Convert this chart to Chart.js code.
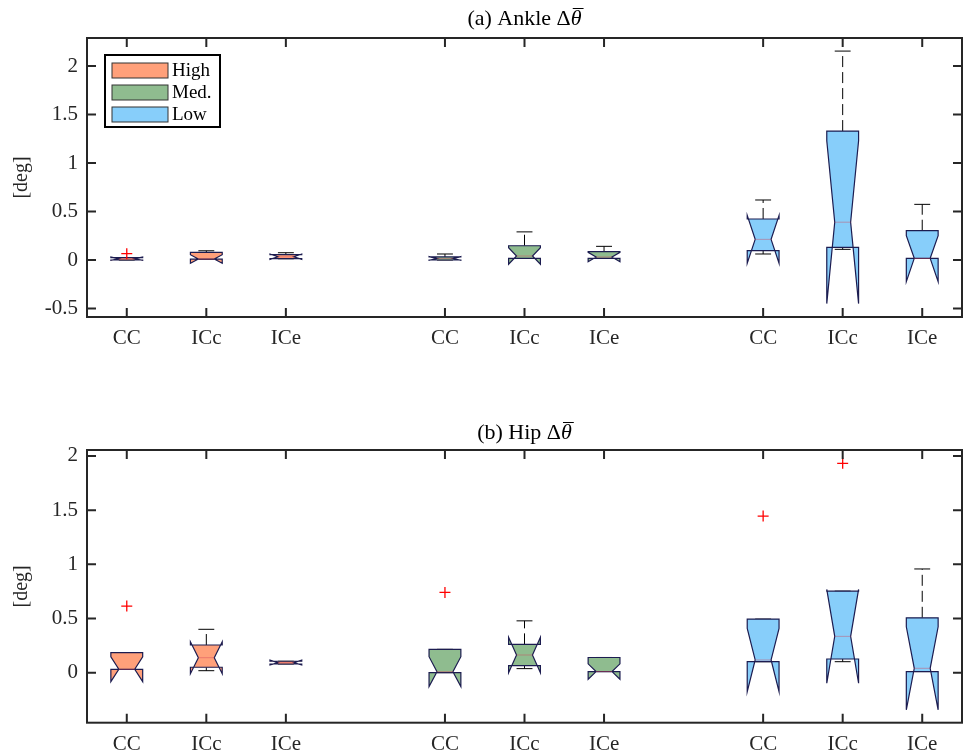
<!DOCTYPE html>
<html>
<head>
<meta charset="utf-8">
<script src="https://cdn.jsdelivr.net/npm/chart.js@4.4.1/dist/chart.umd.min.js"></script>
<style>
    body { margin: 0; background: #fff; width: 963px; height: 755px; overflow: hidden; position: relative; }
    canvas { position: absolute; left: 0; }
    #ankle { top: 0; }
    #hip { top: 380px; }
</style>
</head>
<body>
<canvas id="ankle" width="963" height="380"></canvas>
<canvas id="hip" width="963" height="375"></canvas>
<script>
// box positions on the x axis and their labels
const tickPos = [1, 2, 3, 5, 6, 7, 9, 10, 11]
const tickLabels = ['CC', 'ICc', 'ICe', 'CC', 'ICc', 'ICe', 'CC', 'ICc', 'ICe']
const groupNames = ['High', 'Med.', 'Low']
const groupColors = ['#ffa07a', '#8fbc8f', '#87cefa']
const groupOf = [0, 0, 0, 1, 1, 1, 2, 2, 2]

// (a) ankle
const ankleQ1      = [0.000, 0.008, 0.015, 0.000, 0.017, 0.017, 0.096, 0.130, 0.017]
const ankleMed     = [0.012, 0.010, 0.033, 0.015, 0.041, 0.031, 0.213, 0.390, 0.017]
const ankleQ3      = [0.025, 0.079, 0.055, 0.032, 0.147, 0.086, 0.423, 1.330, 0.302]
const ankleNotchLo = [-0.004, -0.034, 0.007, -0.003, -0.044, -0.017, -0.034, -0.450, -0.224]
const ankleNotchHi = [0.030, 0.055, 0.062, 0.035, 0.126, 0.079, 0.460, 1.230, 0.250]
const ankleWhiskLo = [0.000, 0.008, 0.013, 0.000, 0.017, 0.017, 0.062, 0.110, 0.017]
const ankleWhiskHi = [0.025, 0.095, 0.075, 0.062, 0.290, 0.141, 0.619, 2.155, 0.574]
const ankleOutX = [1]
const ankleOutY = [0.065]
const ankleYTicks = [-0.5, 0, 0.5, 1, 1.5, 2]
const ankleYLabels = ['-0.5', '0', '0.5', '1', '1.5', '2']

// (b) hip
const hipQ1      = [0.031, 0.050, 0.080, 0.000, 0.065, 0.010, 0.101, 0.126, 0.010]
const hipMed     = [0.031, 0.138, 0.092, 0.009, 0.163, 0.010, 0.117, 0.335, 0.040]
const hipQ3      = [0.184, 0.255, 0.105, 0.215, 0.261, 0.140, 0.494, 0.752, 0.506]
const hipNotchLo = [-0.083, -0.010, 0.070, -0.129, 0.000, -0.061, -0.175, -0.098, -0.343]
const hipNotchHi = [0.145, 0.285, 0.116, 0.147, 0.326, 0.081, 0.409, 0.768, 0.423]
const hipWhiskLo = [0.031, 0.018, 0.080, 0.000, 0.037, 0.010, 0.101, 0.101, 0.010]
const hipWhiskHi = [0.184, 0.400, 0.105, 0.215, 0.478, 0.140, 0.494, 0.752, 0.957]
const hipOutX = [1, 5, 9, 10]
const hipOutY = [0.614, 0.740, 1.445, 1.932]
const hipYTicks = [0, 0.5, 1, 1.5, 2]
const hipYLabels = ['0', '0.5', '1', '1.5', '2']

const fontFamily = '"Liberation Serif", "Times New Roman", serif'
const axisColor = '#262626'


function drawBoxes(chart, stats) {
    let ctx = chart.ctx
    let xs = chart.scales.x
    let ys = chart.scales.y
    let X = v => xs.getPixelForValue(v)
    let Y = v => ys.getPixelForValue(v)
    let w = 0.2

    ctx.save()
    stats.q1.forEach((q1, i) => {
        let p = tickPos[i]
        let med = stats.med[i], q3 = stats.q3[i]
        let nlo = stats.nlo[i], nhi = stats.nhi[i]

        // whiskers (dashed) and caps
        ctx.strokeStyle = '#000'
        ctx.lineWidth = 1
        ctx.setLineDash([11, 5])
        ctx.beginPath()
        ctx.moveTo(X(p), Y(q3)); ctx.lineTo(X(p), Y(stats.whi[i]))
        ctx.moveTo(X(p), Y(q1)); ctx.lineTo(X(p), Y(stats.wlo[i]))
        ctx.stroke()
        ctx.setLineDash([])
        ctx.beginPath()
        ctx.moveTo(X(p - w / 2), Y(stats.whi[i])); ctx.lineTo(X(p + w / 2), Y(stats.whi[i]))
        ctx.moveTo(X(p - w / 2), Y(stats.wlo[i])); ctx.lineTo(X(p + w / 2), Y(stats.wlo[i]))
        ctx.stroke()

        // notched box outline
        let pts = [[p - w, q1], [p - w, nlo], [p - w / 2, med], [p - w, nhi], [p - w, q3],
                   [p + w, q3], [p + w, nhi], [p + w / 2, med], [p + w, nlo], [p + w, q1]]
        ctx.beginPath()
        pts.forEach((pt, k) => {
            if (k == 0) ctx.moveTo(X(pt[0]), Y(pt[1]))
            else ctx.lineTo(X(pt[0]), Y(pt[1]))
        })
        ctx.closePath()
        ctx.fillStyle = groupColors[groupOf[i]]
        ctx.fill()
        ctx.strokeStyle = '#1c1c50'
        ctx.lineWidth = 1.2
        ctx.stroke()

        // median
        ctx.strokeStyle = 'rgba(210, 70, 90, 0.45)'
        ctx.lineWidth = 1
        ctx.beginPath()
        ctx.moveTo(X(p - w / 2), Y(med)); ctx.lineTo(X(p + w / 2), Y(med))
        ctx.stroke()
    })
    ctx.restore()
}


function drawFrame(chart, yTicks) {
    let ctx = chart.ctx
    let a = chart.chartArea
    let tl = 9
    ctx.save()
    ctx.strokeStyle = axisColor
    ctx.lineWidth = 2
    ctx.beginPath()
    tickPos.forEach(v => {
        let px = chart.scales.x.getPixelForValue(v)
        ctx.moveTo(px, a.bottom); ctx.lineTo(px, a.bottom - tl)
        ctx.moveTo(px, a.top); ctx.lineTo(px, a.top + tl)
    })
    yTicks.forEach(v => {
        let py = chart.scales.y.getPixelForValue(v)
        ctx.moveTo(a.left, py); ctx.lineTo(a.left + tl, py)
        ctx.moveTo(a.right, py); ctx.lineTo(a.right - tl, py)
    })
    ctx.stroke()
    ctx.strokeRect(a.left, a.top, a.right - a.left, a.bottom - a.top)
    ctx.restore()
}


// title "(x) Name Δθ" with italic theta and an overbar
function drawTitle(chart, head, y) {
    let ctx = chart.ctx
    let a = chart.chartArea
    ctx.save()
    ctx.fillStyle = '#000'
    ctx.textBaseline = 'middle'
    let regular = '22px ' + fontFamily
    let italic = 'italic 22px ' + fontFamily
    ctx.font = regular
    let w1 = ctx.measureText(head).width
    ctx.font = italic
    let w2 = ctx.measureText('\u03b8').width
    let x0 = (a.left + a.right) / 2 - (w1 + w2) / 2
    ctx.font = regular
    ctx.fillText(head, x0, y)
    ctx.font = italic
    ctx.fillText('\u03b8', x0 + w1, y)
    ctx.strokeStyle = '#000'
    ctx.lineWidth = 1
    ctx.beginPath()
    ctx.moveTo(x0 + w1 + 2, y - 10.5)
    ctx.lineTo(x0 + w1 + w2 + 2, y - 10.5)
    ctx.stroke()
    ctx.restore()
}


function drawLegend(chart) {
    let ctx = chart.ctx
    let a = chart.chartArea
    let left = a.left + 18, top = a.top + 17
    ctx.save()
    ctx.fillStyle = '#fff'
    ctx.fillRect(left, top, 115, 72)
    ctx.strokeStyle = '#000'
    ctx.lineWidth = 2
    ctx.strokeRect(left, top, 115, 72)
    ctx.font = '19px ' + fontFamily
    ctx.textBaseline = 'middle'
    groupNames.forEach((name, i) => {
        let y = top + 8 + i * 22
        ctx.fillStyle = groupColors[i]
        ctx.fillRect(left + 7, y, 56, 15)
        ctx.strokeStyle = '#333'
        ctx.lineWidth = 1
        ctx.strokeRect(left + 7, y, 56, 15)
        ctx.fillStyle = '#000'
        ctx.fillText(name, left + 67, y + 8)
    })
    ctx.restore()
}


function makeChart(id, cfg) {
    let stats = { q1: cfg.q1, med: cfg.med, q3: cfg.q3, nlo: cfg.nlo, nhi: cfg.nhi, wlo: cfg.wlo, whi: cfg.whi }
    let tickFont = { family: fontFamily, size: 21 }

    return new Chart(document.getElementById(id), {
        type: 'scatter',
        data: {
            datasets: [{
                label: 'outliers',
                data: cfg.outX.map((x, i) => ({ x: x, y: cfg.outY[i] })),
                pointStyle: 'cross',
                pointRadius: 5.5,
                borderColor: '#ff0000',
                borderWidth: 1.3
            }]
        },
        options: {
            responsive: false,
            animation: false,
            layout: { autoPadding: false, padding: { left: 0, right: 1, top: cfg.top, bottom: 0 } },
            plugins: {
                legend: { display: false },
                tooltip: { enabled: false },
                title: { display: false }
            },
            scales: {
                x: {
                    type: 'linear',
                    min: 0.5,
                    max: 11.5,
                    grid: { display: false, drawTicks: false },
                    border: { display: false },
                    afterBuildTicks: s => { s.ticks = tickPos.map(v => ({ value: v })) },
                    afterFit: s => { s.height = cfg.xHeight },
                    ticks: {
                        callback: v => tickLabels[tickPos.indexOf(v)],
                        font: tickFont,
                        color: axisColor,
                        padding: 9,
                        maxRotation: 0,
                        autoSkip: false
                    }
                },
                y: {
                    min: cfg.yMin,
                    max: cfg.yMax,
                    grid: { display: false, drawTicks: false },
                    border: { display: false },
                    afterBuildTicks: s => { s.ticks = cfg.yTicks.map(v => ({ value: v })) },
                    afterFit: s => { s.width = 87 },
                    ticks: {
                        callback: v => cfg.yLabels[cfg.yTicks.indexOf(v)],
                        font: tickFont,
                        color: axisColor,
                        padding: 9
                    },
                    title: {
                        display: true,
                        text: '[deg]',
                        color: axisColor,
                        font: { family: fontFamily, size: 20 },
                        padding: { top: 10, bottom: 0 }
                    }
                }
            }
        },
        plugins: [{
            id: 'notchedBoxes',
            beforeDatasetsDraw: chart => drawBoxes(chart, stats),
            afterDatasetsDraw: chart => { if (cfg.legend) drawLegend(chart) },
            afterDraw: chart => {
                drawFrame(chart, cfg.yTicks)
                drawTitle(chart, cfg.title, cfg.titleY)
            }
        }]
    })
}


makeChart('ankle', {
    title: '(a) Ankle \u0394',
    titleY: 19,
    top: 38,
    xHeight: 63,
    yMin: -0.588, yMax: 2.29,
    yTicks: ankleYTicks, yLabels: ankleYLabels,
    q1: ankleQ1, med: ankleMed, q3: ankleQ3, nlo: ankleNotchLo, nhi: ankleNotchHi,
    wlo: ankleWhiskLo, whi: ankleWhiskHi,
    outX: ankleOutX, outY: ankleOutY,
    legend: true
})

makeChart('hip', {
    title: '(b) Hip \u0394',
    titleY: 53,
    top: 70,
    xHeight: 32.3,
    yMin: -0.462, yMax: 2.055,
    yTicks: hipYTicks, yLabels: hipYLabels,
    q1: hipQ1, med: hipMed, q3: hipQ3, nlo: hipNotchLo, nhi: hipNotchHi,
    wlo: hipWhiskLo, whi: hipWhiskHi,
    outX: hipOutX, outY: hipOutY,
    legend: false
})
</script>
</body>
</html>
